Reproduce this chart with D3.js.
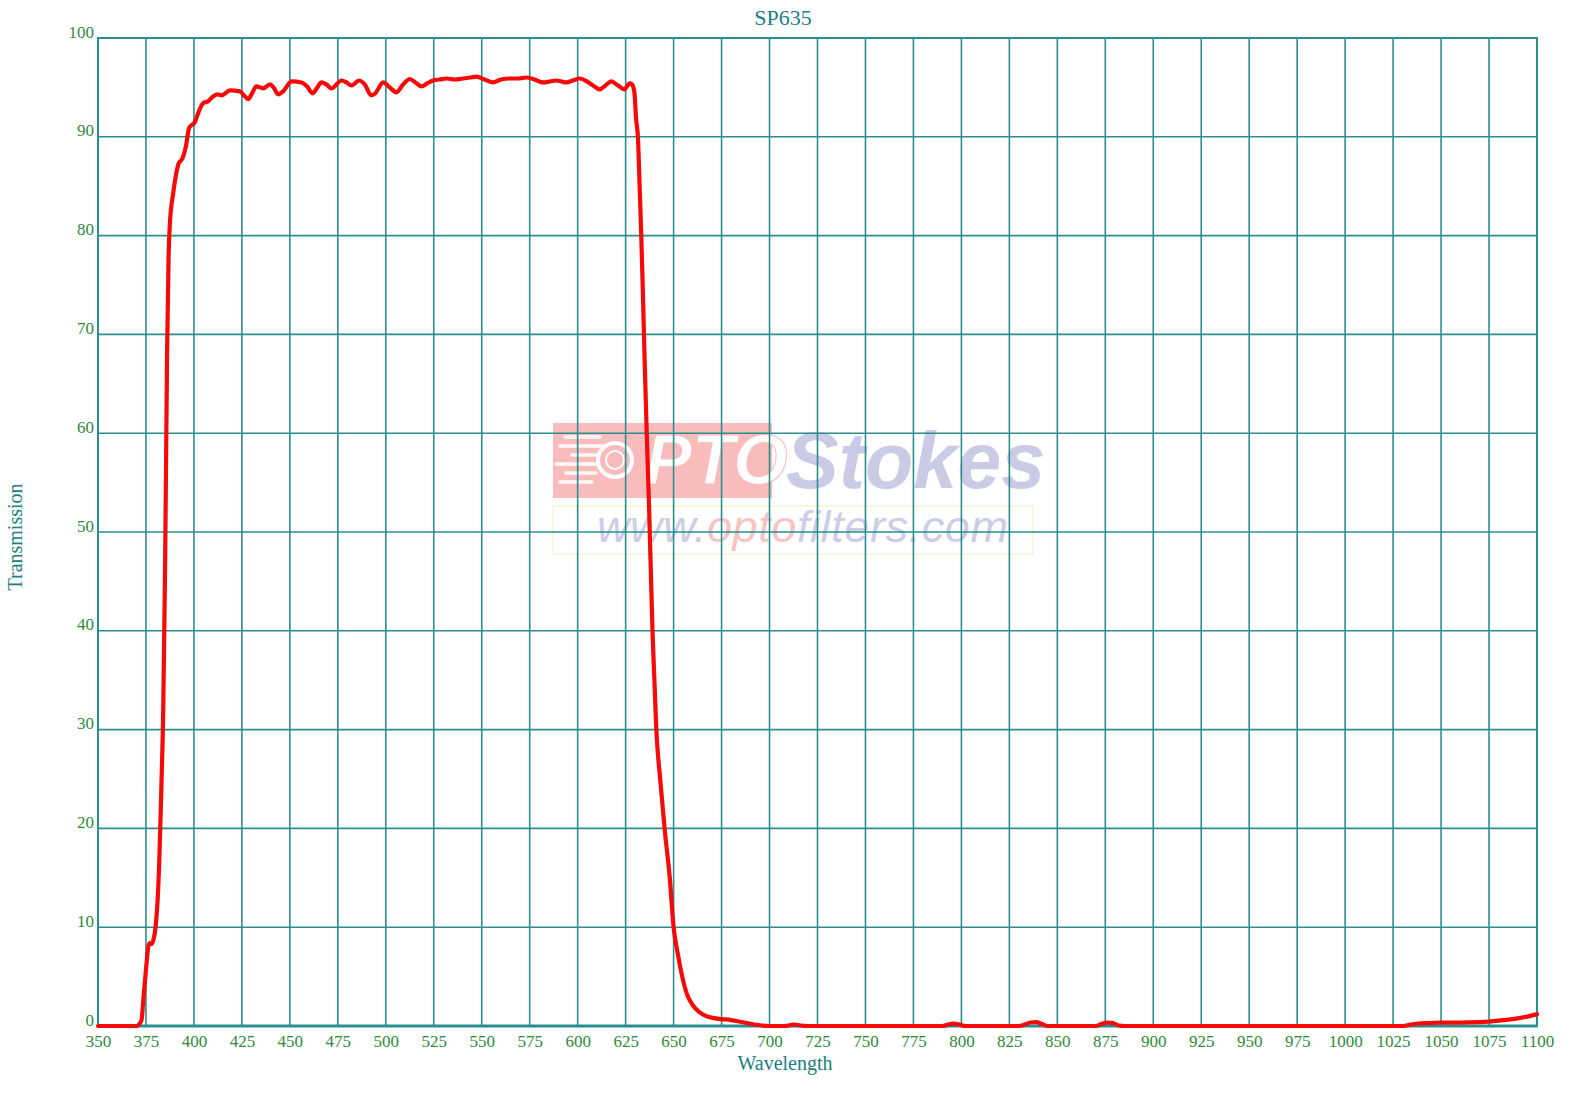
<!DOCTYPE html>
<html>
<head>
<meta charset="utf-8">
<script src="https://cdn.jsdelivr.net/npm/d3@7"></script>
<style>
  html, body { margin: 0; padding: 0; background: #ffffff; }
  svg { display: block; }
</style>
</head>
<body>
<svg id="chart" width="1579" height="1117"></svg>
<script>
// ---- data ----
const chartTitle = "SP635";
const xAxisTitle = "Wavelength";
const yAxisTitle = "Transmission";
const xTicks = [350,375,400,425,450,475,500,525,550,575,600,625,650,675,700,725,750,775,800,825,850,875,900,925,950,975,1000,1025,1050,1075,1100];
const yTicks = [0,10,20,30,40,50,60,70,80,90,100];

const wavelength = [
  350,360,370,371,372.7,373.6,375,376.2,377,378,379,380,381,382,383,384,385,386,386.8,387.5,
  389.2,391,392,394,395.8,397.5,400.5,402.2,404.8,407.4,409.5,412.1,414.4,418.8,424,426.5,428.3,430,432.6,436.1,
  439.6,441.5,443.9,446.5,450.9,456.1,459,461.8,464,466.5,469,471.7,476.9,479.5,482.1,486.1,489,492.5,494.5,498.6,
  502,505.6,509,512.5,515.5,518.6,521.5,524.6,528,531.6,536,540.3,544,547.3,551.5,555.9,560,564.6,569,573.3,
  577.5,582,585.5,588.9,591.5,594.1,597.5,601,604,608,611.5,614.5,617.5,621,624.5,626,627.1,628.3,629.5,630.5,
  631.4,632.3,633.1,634,634.9,636,637.1,638,639,640,641,643,645.3,648,650,652,654.5,657,660,663.5,
  667,671,675,680,684,688,692,696,700,708,711,713,716,720,790,793,796,799,802,830,
  833,836,839,842,845,870,873,876,879,882,885,1030,1034,1038,1044,1050,1060,1070,1080,1089,
  1095,1100
];
const transmission = [
  0,0,0,0.1,0.6,2.6,5.7,8.0,8.4,8.3,8.8,10,12.5,17,24,32,47,68,78,81.3,
  84.3,86.5,87.3,87.8,89,90.9,91.5,92.4,93.4,93.6,94.0,94.3,94.2,94.7,94.6,94.1,93.8,94.3,95.1,94.9,
  95.3,95.0,94.3,94.6,95.6,95.5,95.1,94.4,94.9,95.5,95.3,94.9,95.7,95.5,95.2,95.7,95.3,94.2,94.4,95.5,
  95.0,94.5,95.3,95.85,95.5,95.1,95.4,95.7,95.8,95.9,95.8,95.9,96.0,96.1,95.8,95.5,95.8,95.9,95.9,96.0,
  95.8,95.5,95.6,95.7,95.6,95.5,95.7,95.9,95.7,95.2,94.8,95.2,95.6,95.2,94.8,95.2,95.4,95.3,94.6,91.7,
  90,85,80.3,74.2,67.4,60,53.2,47,40,35,30,25,20,15,10,7.5,5.0,3.2,2.1,1.4,
  1.0,0.8,0.7,0.6,0.45,0.3,0.15,0.05,0,0,0.1,0.15,0.05,0,0,0.15,0.25,0.15,0,0,
  0.15,0.35,0.4,0.2,0,0,0.2,0.35,0.3,0.05,0,0,0.15,0.25,0.3,0.35,0.35,0.4,0.55,0.75,
  0.95,1.2
];

// ---- layout ----
const W = 1579, H = 1117;
const pL = 98, pR = 1537, pT = 38, pB = 1026;
const gridColor = "#2a8e8e";
const tickColor = "#2f8a3c";
const titleColor = "#1d8080";
const serif = "'Liberation Serif', 'DejaVu Serif', serif";

const svg = d3.select("#chart");
svg.append("rect").attr("width", W).attr("height", H).attr("fill", "#fff");

const x = d3.scaleLinear().domain([350, 1100]).range([pL, pR]);
const y = d3.scaleLinear().domain([0, 100]).range([pB, pT]);

// ---- watermark ----
const wm = svg.append("g").attr("class", "watermark");
wm.append("rect").attr("x", 553).attr("y", 423).attr("width", 219).attr("height", 75)
  .attr("fill", "#f8bcbc");
[[565,600,437],[560,605,446],[572,598,455],[556,600,464],[566,596,473],[560,592,482]].forEach(d => {
  wm.append("line").attr("x1", d[0]).attr("x2", d[1]).attr("y1", d[2]).attr("y2", d[2])
    .attr("stroke", "#ffffff").attr("stroke-width", 3.5).attr("stroke-linecap", "round").attr("opacity", 0.9);
});
wm.append("circle").attr("cx", 615).attr("cy", 460).attr("r", 17).attr("fill", "#f8bcbc")
  .attr("stroke", "#ffffff").attr("stroke-width", 4);
wm.append("circle").attr("cx", 615).attr("cy", 460).attr("r", 9).attr("fill", "none")
  .attr("stroke", "#ffffff").attr("stroke-width", 2);
wm.append("text").attr("x", 645).attr("y", 484)
  .attr("font-family", "'Liberation Sans', Arial, sans-serif").attr("font-weight", "bold")
  .attr("font-style", "italic").attr("font-size", 70).attr("fill", "#ffffff")
  .attr("stroke", "#f8bcbc").attr("stroke-width", 1).text("PTO");
wm.append("text").attr("x", 786).attr("y", 488)
  .attr("font-family", "'Liberation Sans', Arial, sans-serif").attr("font-weight", "bold")
  .attr("font-style", "italic").attr("font-size", 79).attr("fill", "#cbcbe6").text("Stokes");
const url = wm.append("text").attr("x", 597).attr("y", 542)
  .attr("font-family", "'Liberation Sans', Arial, sans-serif")
  .attr("font-style", "italic").attr("font-size", 45).attr("letter-spacing", 0.6);
url.append("tspan").attr("fill", "#cdcde7").text("www.");
url.append("tspan").attr("fill", "#f7c4c4").text("opto");
url.append("tspan").attr("fill", "#cdcde7").text("filters.com");
wm.append("rect").attr("x", 553).attr("y", 506).attr("width", 480).attr("height", 48)
  .attr("fill", "none").attr("stroke", "#f8f3d2").attr("stroke-width", 1.5);

// ---- grid ----
const grid = svg.append("g");
grid.selectAll("line.v").data(xTicks).join("line").attr("class", "v")
  .attr("x1", d => x(d)).attr("x2", d => x(d)).attr("y1", pT).attr("y2", pB)
  .attr("stroke", gridColor).attr("stroke-width", 1.6);
grid.selectAll("line.h").data(yTicks).join("line").attr("class", "h")
  .attr("x1", pL).attr("x2", pR).attr("y1", d => y(d)).attr("y2", d => y(d))
  .attr("stroke", gridColor).attr("stroke-width", 1.6);
grid.append("rect").attr("x", pL).attr("y", pT).attr("width", pR - pL).attr("height", pB - pT)
  .attr("fill", "none").attr("stroke", gridColor).attr("stroke-width", 2);
grid.append("line").attr("x1", pL).attr("x2", pR).attr("y1", pB).attr("y2", pB)
  .attr("stroke", gridColor).attr("stroke-width", 3);

// ---- axes tick labels ----
const xAxis = svg.append("g").attr("transform", `translate(0,${pB})`)
  .call(d3.axisBottom(x).tickValues(xTicks).tickSize(0).tickPadding(0).tickFormat(d3.format("d")));
xAxis.select(".domain").remove();
xAxis.selectAll("text").attr("dy", 0).attr("y", 21)
  .attr("font-family", serif).attr("font-size", 17).attr("fill", tickColor);

const yAxis = svg.append("g").attr("transform", `translate(${pL},0)`)
  .call(d3.axisLeft(y).tickValues(yTicks).tickSize(0).tickPadding(0).tickFormat(d3.format("d")));
yAxis.select(".domain").remove();
yAxis.selectAll("text").attr("dy", 0).attr("x", -4).attr("y", -1)
  .attr("font-family", serif).attr("font-size", 17).attr("fill", tickColor);

// ---- titles ----
svg.append("text").attr("x", 783).attr("y", 25).attr("text-anchor", "middle")
  .attr("font-family", serif).attr("font-size", 22).attr("fill", titleColor).text(chartTitle);
svg.append("text").attr("x", 785).attr("y", 1070).attr("text-anchor", "middle")
  .attr("font-family", serif).attr("font-size", 20).attr("fill", titleColor).text(xAxisTitle);
svg.append("text").attr("transform", "translate(22,537) rotate(-90)").attr("text-anchor", "middle")
  .attr("font-family", serif).attr("font-size", 20).attr("fill", titleColor).text(yAxisTitle);

// ---- curve ----
const pts = wavelength.map((w, i) => [w, transmission[i]]);
const line = d3.line().x(d => x(d[0])).y(d => y(d[1])).curve(d3.curveMonotoneX);
svg.append("path").datum(pts).attr("d", line)
  .attr("fill", "none").attr("stroke", "#f50a0a").attr("stroke-width", 4.2)
  .attr("stroke-linejoin", "round").attr("stroke-linecap", "round");
</script>
</body>
</html>
